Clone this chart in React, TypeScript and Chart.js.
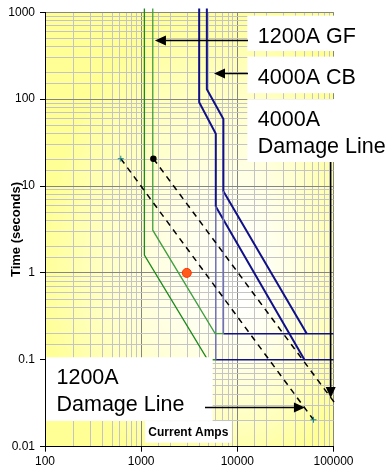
import React, { useEffect, useRef } from "react";
import { Chart, registerables } from "chart.js";

Chart.register(...registerables);

const FONT = "'Liberation Sans', Arial, sans-serif";

// Tick labels shown on the log axes
const xTickValues = [100, 1000, 10000, 100000];
const yTickValues = [0.01, 0.1, 1, 10, 100, 1000];

// 1200A ground-fault band (amps / seconds)
const gfLowAmps = [1080, 1080, 4920, 5970];
const gfLowSecs = [1100, 1.6, 0.1, 0.1];
const gfHighAmps = [1320, 1320, 5880, 7160];
const gfHighSecs = [1100, 3.1, 0.2, 0.2];

// 4000A circuit breaker band
const cbLowAmps = [4010, 4010, 5970, 5970, 49900];
const cbLowSecs = [1100, 92, 40, 5.8, 0.1];
const cbHighAmps = [4820, 4820, 7160, 7160, 52800];
const cbHighSecs = [1100, 130, 59, 8.7, 0.2];
const cbLowInstAmps = [5970, 5970];
const cbLowInstSecs = [5.8, 0.1];
const cbHighInstAmps = [7160, 7160];
const cbHighInstSecs = [8.7, 0.2];
const cbLowFlatAmps = [5970, 100000];
const cbLowFlatSecs = [0.1, 0.1];
const cbHighFlatAmps = [7160, 100000];
const cbHighFlatSecs = [0.2, 0.2];

// Damage lines
const dmg1200Amps = [614, 61900];
const dmg1200Secs = [20.6, 0.0204];
const dmg4000Amps = [1340, 108000];
const dmg4000Secs = [20.6, 0.0297];

// Fault point
const faultAmps = [2980];
const faultSecs = [1];

// Callout labels (anchored in amps / seconds)
const calloutText = [["1200A GF"], ["4000A CB"], ["4000A", "Damage Line"], ["1200A", "Damage Line"]];
const calloutLeftAmps = [12700, 12700, 12700, null];
const calloutRightAmps = [null, null, null, 5540];
const calloutTopSecs = [914, 308, 100, 0.107];
const calloutBottomSecs = [358, 117, 18.9, 0.0198];

// Arrows (from -> to)
const arrowFromAmps = [12900, 12900, 93500, 4610];
const arrowFromSecs = [473, 197, 18.9, 0.0282];
const arrowToAmps = [1390, 5720, 93500, 50500];
const arrowToSecs = [473, 197, 0.0363, 0.0282];

// x-axis title box
const xTitleText = "Current Amps";
const xTitleBoxAmps = [1097, 8730];
const xTitleBoxSecs = [0.0197, 0.0111];

const pts = (xs: number[], ys: number[]) => xs.map((x, i) => ({ x, y: ys[i] }));

const isMajor = (v: number) => {
  const l = Math.log10(v);
  return Math.abs(l - Math.round(l)) < 1e-6;
};
const tickLabel = (list: number[]) => (v: any) => {
  const n = Number(v);
  const hit = list.find((t) => Math.abs(Math.log10(t) - Math.log10(n)) < 1e-6);
  return hit !== undefined ? String(hit) : "";
};

const bgPlugin = {
  id: "bgGradient",
  beforeDraw(chart: any) {
    const { ctx, chartArea } = chart;
    const { left, top, right, bottom } = chartArea;
    const w = Math.round(right - left);
    const h = Math.round(bottom - top);
    const off = document.createElement("canvas");
    off.width = w;
    off.height = h;
    const o = off.getContext("2d")!;
    const img = o.createImageData(w, h);
    const cx = w * 0.68;
    const cy = h * 0.64;
    const hl = w * 0.7;
    const hr = w * 0.4;
    const ht = h * 0.68;
    const hb = h * 0.42;
    for (let j = 0; j < h; j++) {
      for (let i = 0; i < w; i++) {
        const dx = i - cx;
        const dy = j - cy;
        const nx = dx < 0 ? dx / hl : dx / hr;
        const ny = dy < 0 ? dy / ht : dy / hb;
        const t = Math.min(1, Math.sqrt(nx * nx + ny * ny));
        const b = 255 - 105 * Math.pow(t, 1.5);
        const k = (j * w + i) * 4;
        img.data[k] = 255;
        img.data[k + 1] = 255;
        img.data[k + 2] = b;
        img.data[k + 3] = 255;
      }
    }
    o.putImageData(img, 0, 0);
    ctx.save();
    ctx.drawImage(off, left, top);
    ctx.restore();
  },
};

const annotPlugin = {
  id: "callouts",
  afterDatasetsDraw(chart: any) {
    const { ctx, chartArea, scales } = chart;
    const X = (a: number) => scales.x.getPixelForValue(a);
    const Y = (s: number) => scales.y.getPixelForValue(s);
    ctx.save();
    // callout boxes
    calloutText.forEach((lines, i) => {
      const l = calloutLeftAmps[i] == null ? chartArea.left + 1 : X(calloutLeftAmps[i] as number);
      const r = calloutRightAmps[i] == null ? chart.width : X(calloutRightAmps[i] as number);
      const t = Y(calloutTopSecs[i]);
      const b = Y(calloutBottomSecs[i]);
      ctx.fillStyle = "#ffffff";
      ctx.fillRect(l, t, r - l, b - t);
      ctx.fillStyle = "#000000";
      ctx.font = `21.5px ${FONT}`;
      ctx.textAlign = "left";
      ctx.textBaseline = "alphabetic";
      const dx = calloutLeftAmps[i] == null ? 10.5 : 10.5;
      lines.forEach((line, k) => {
        ctx.fillText(line, l + dx, t + 27 + k * 26.5);
      });
    });
    // x-axis title box inside plot
    {
      const l = X(xTitleBoxAmps[0]);
      const r = X(xTitleBoxAmps[1]);
      const t = Y(xTitleBoxSecs[0]);
      const b = Y(xTitleBoxSecs[1]);
      ctx.fillStyle = "#ffffff";
      ctx.fillRect(l, t, r - l, b - t);
      ctx.fillStyle = "#000000";
      ctx.font = `bold 12px ${FONT}`;
      ctx.textAlign = "center";
      ctx.textBaseline = "middle";
      ctx.fillText(xTitleText, (l + r) / 2, (t + b) / 2 + 0.5);
    }
    // arrows
    ctx.strokeStyle = "#000";
    ctx.fillStyle = "#000";
    ctx.lineWidth = 1.5;
    arrowFromAmps.forEach((_, i) => {
      const x0 = X(arrowFromAmps[i]);
      const y0 = Y(arrowFromSecs[i]);
      const x1 = X(arrowToAmps[i]);
      const y1 = Y(arrowToSecs[i]);
      const ang = Math.atan2(y1 - y0, x1 - x0);
      const len = 11;
      const hw = 5;
      const bx = x1 - Math.cos(ang) * len;
      const by = y1 - Math.sin(ang) * len;
      ctx.beginPath();
      ctx.moveTo(x0, y0);
      ctx.lineTo(bx, by);
      ctx.stroke();
      ctx.beginPath();
      ctx.moveTo(x1, y1);
      ctx.lineTo(bx - Math.sin(ang) * hw, by + Math.cos(ang) * hw);
      ctx.lineTo(bx + Math.sin(ang) * hw, by - Math.cos(ang) * hw);
      ctx.closePath();
      ctx.fill();
    });
    ctx.restore();
  },
};

const line = (data: any[], color: string, width: number, extra: any = {}) => ({
  data,
  showLine: true,
  borderColor: color,
  borderWidth: width,
  pointRadius: 0,
  fill: false,
  tension: 0,
  clip: false,
  ...extra,
});

export default function App() {
  const ref = useRef<HTMLCanvasElement>(null);
  useEffect(() => {
    if (!ref.current) return;
    const navy = "#10108a";
    const lightNavy = "#7070b8";
    const chart = new Chart(ref.current, {
      type: "scatter",
      data: {
        datasets: [
          line(pts(dmg1200Amps, dmg1200Secs), "#000", 1.5, {
            borderDash: [6, 5],
            pointRadius: 3,
            pointStyle: "cross",
            pointBorderColor: "#118888",
            pointBorderWidth: 1,
          }),
          line(pts(dmg4000Amps, dmg4000Secs), "#000", 1.5, {
            borderDash: [6, 5],
            pointRadius: [2.5, 0],
            pointBackgroundColor: "#000",
            pointBorderColor: "#000",
          }),
          line(pts(gfLowAmps, gfLowSecs), "#1a8a1a", 1.3),
          line(pts(gfHighAmps, gfHighSecs), "#3f9f3f", 1.3),
          line(pts(cbLowInstAmps, cbLowInstSecs), lightNavy, 1.5),
          line(pts(cbHighInstAmps, cbHighInstSecs), lightNavy, 1.5),
          line(pts(cbLowFlatAmps, cbLowFlatSecs), navy, 1.5),
          line(pts(cbHighFlatAmps, cbHighFlatSecs), navy, 1.5),
          line(pts(cbLowAmps, cbLowSecs), navy, 2),
          line(pts(cbHighAmps, cbHighSecs), navy, 2),
          {
            data: pts(faultAmps, faultSecs),
            showLine: false,
            pointRadius: 4.5,
            pointBackgroundColor: "#ff5a1a",
            pointBorderColor: "#ff3000",
            pointBorderWidth: 1,
          },
        ],
      },
      options: {
        responsive: false,
        animation: false,
        events: [],
        layout: { padding: { left: 0, right: 57.5, top: 9.3, bottom: 0 } },
        plugins: { legend: { display: false }, tooltip: { enabled: false } },
        scales: {
          x: {
            type: "logarithmic",
            position: "bottom",
            min: 100,
            max: 100000,
            afterFit: (s: any) => {
              s.height = 24.3;
            },
            grid: {
              color: (c: any) => (isMajor(c.tick.value) ? "#858585" : "#c4c4c4"),
              tickColor: (c: any) => (isMajor(c.tick.value) ? "#000" : "rgba(0,0,0,0)"),
              tickLength: 5,
              lineWidth: 1,
            },
            border: { color: "#000", width: 1 },
            ticks: {
              autoSkip: false,
              maxRotation: 0,
              color: "#000",
              padding: 3,
              font: { family: FONT, size: 12 },
              callback: tickLabel(xTickValues),
            },
          },
          y: {
            type: "logarithmic",
            position: "left",
            min: 0.01,
            max: 1000,
            afterFit: (s: any) => {
              s.width = 45;
            },
            grid: {
              color: (c: any) => (isMajor(c.tick.value) ? "#858585" : "#c4c4c4"),
              tickColor: (c: any) => (isMajor(c.tick.value) ? "#000" : "rgba(0,0,0,0)"),
              tickLength: 5,
              lineWidth: 1,
            },
            border: { color: "#000", width: 1 },
            ticks: {
              autoSkip: false,
              color: "#000",
              padding: 5,
              font: { family: FONT, size: 12 },
              callback: tickLabel(yTickValues),
            },
            title: {
              display: true,
              text: "Time (seconds)",
              color: "#000",
              font: { family: FONT, size: 13, weight: "bold" },
              padding: { top: 9, bottom: 0 },
            },
          },
        },
      },
      plugins: [bgPlugin, annotPlugin],
    } as any);
    return () => chart.destroy();
  }, []);
  return (
    <div style={{ position: "absolute", left: 0, top: 0, width: 391, height: 471, background: "#fff" }}>
      <canvas ref={ref} width={391} height={471} style={{ display: "block" }} />
    </div>
  );
}
